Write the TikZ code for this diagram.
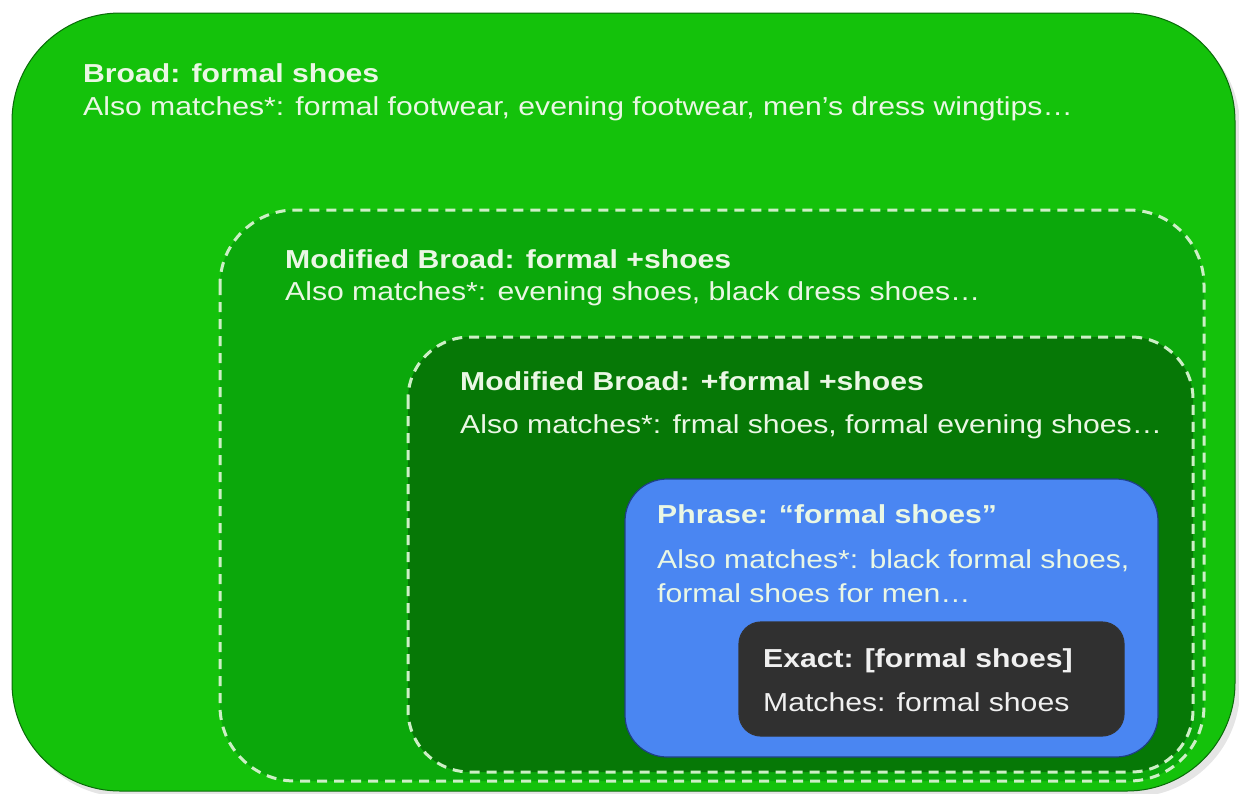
\documentclass[tikz,border=0pt]{standalone}
\usepackage{fontspec}
\setmainfont{Liberation Sans}[FakeStretch=1.16]

\definecolor{outergreen}{HTML}{14C20B}
\definecolor{midgreen}{HTML}{0BA80B}
\definecolor{darkgreen}{HTML}{067806}
\definecolor{rimgreen}{HTML}{0A6A0A}
\definecolor{phraseblue}{HTML}{4A86F2}
\definecolor{phraserim}{HTML}{1E3F86}
\definecolor{exactgray}{HTML}{303030}
\definecolor{txtcol}{HTML}{EAF7E4}
\definecolor{dashcol}{HTML}{CDEFC6}

\begin{document}
\begin{tikzpicture}[x=1pt,y=-1pt,
	lbl/.style={anchor=base west,inner sep=0pt,text=txtcol,align=left,
		font=\fontsize{26}{34}\selectfont},
	ttl/.style={lbl,font=\fontsize{26}{34}\selectfont\bfseries},
	dashbox/.style={draw=dashcol,line width=3pt,dash pattern=on 10pt off 7pt}]
	\useasboundingbox (0,0) rectangle (1239,793);
	
	% outer box
	\fill [black,opacity=0.10,rounded corners=108pt] (17,19) rectangle (1240,797);
	\draw [rimgreen,fill=outergreen,line width=1pt,rounded corners=108pt] (12,13) rectangle (1235,791);
	\node [ttl] (broadT) at (83,82) {Broad: formal shoes};
	\node [lbl] (broadM) at (83,115) {Also matches*: formal footwear, evening footwear, men's dress wingtips…};
	
	% modified broad
	\draw [dashbox,fill=midgreen,rounded corners=75pt] (220,210) rectangle (1204,781);
	\node [ttl] (modT) at (285,268) {Modified Broad: formal +shoes};
	\node [lbl] (modM) at (285,300) {Also matches*: evening shoes, black dress shoes…};
	
	% modified broad, both words
	\draw [dashbox,fill=darkgreen,rounded corners=62pt] (408,337) rectangle (1193,772);
	\node [ttl] (modbothT) at (460,390) {Modified Broad: +formal +shoes};
	\node [lbl] (modbothM) at (460,433) {Also matches*: frmal shoes, formal evening shoes…};
	
	% phrase (base = last line)
	\draw [phraserim,fill=phraseblue,line width=1.2pt,rounded corners=42pt] (625,479) rectangle (1158,757);
	\node [ttl] (phraseT) at (657,523) {Phrase: “formal shoes”};
	\node [lbl] (phraseM) at (657,602) {Also matches*: black formal shoes,\\formal shoes for men…};
	
	% exact
	\draw [black!80,fill=exactgray,line width=1.2pt,rounded corners=22pt] (739,622) rectangle (1124,736);
	\node [ttl,text=white!94!black] (exactT) at (763,667) {Exact: [formal shoes]};
	\node [lbl,text=white!94!black] (exactM) at (763,711) {Matches: formal shoes};
\end{tikzpicture}
\end{document}
